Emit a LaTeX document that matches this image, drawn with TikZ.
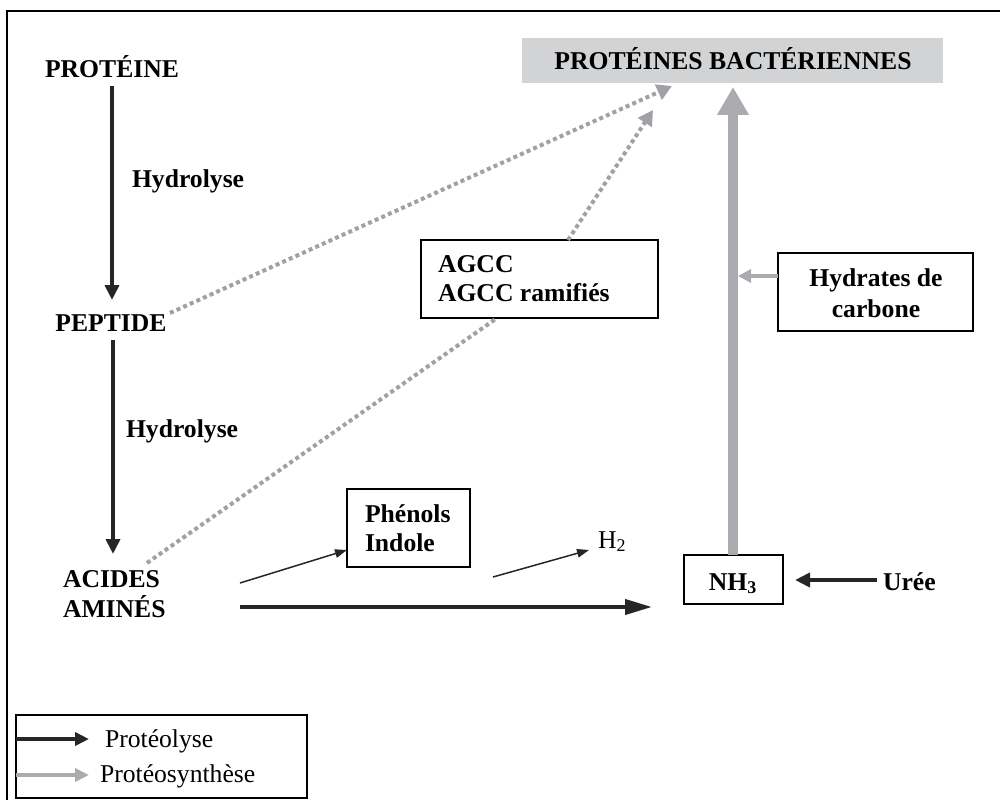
\documentclass[tikz,border=0pt]{standalone}
\usepackage{fontspec}
\setmainfont{Liberation Serif}
\usetikzlibrary{arrows.meta}
\definecolor{arrgray}{RGB}{170,171,175}
\definecolor{dotgray}{RGB}{160,161,166}
\definecolor{boxgray}{RGB}{210,211,213}
\begin{document}
\begin{tikzpicture}[x=0.02cm,y=-0.02cm,
  every node/.style={inner sep=0pt,outer sep=0pt,font=\fontsize{14.6}{17}\selectfont},
  lbl/.style={font=\fontsize{14.6}{17}\selectfont\bfseries},
  reglbl/.style={font=\fontsize{14.6}{17}\selectfont},
  framebox/.style={draw=black,line width=0.035cm},
  blackarr/.style={draw=black!85,line width=0.08cm,-{Triangle[length=0.3cm,width=0.28cm]}},
  thickarr/.style={draw=black!85,line width=0.08cm,-{Triangle[length=0.54cm,width=0.3cm]}},
  thinarr/.style={draw=black!85,line width=0.03cm,-{Triangle[length=0.24cm,width=0.17cm]}},
  bigarr/.style={draw=arrgray,line width=0.2cm,-{Triangle[length=0.56cm,width=0.6cm]}},
  grayarr/.style={draw=arrgray,line width=0.08cm,-{Triangle[length=0.26cm,width=0.26cm]}},
  dotarr/.style={draw=dotgray,line width=0.08cm,dash pattern=on 0.08cm off 0.065cm,-{Triangle[length=0.3cm,width=0.32cm,fill=dotgray]}},
  dotline/.style={draw=dotgray,line width=0.08cm,dash pattern=on 0.08cm off 0.065cm}]
\useasboundingbox (0,0) rectangle (1000,800);
% outer frame
\draw[line width=0.035cm] (7,11) rectangle (1006,806);

% boxes
\path[fill=boxgray] (522,38) rectangle (943,83);
\node[lbl,anchor=base] (pb) at (733,70) {PROTÉINES BACTÉRIENNES};
\coordinate (pbdot1) at (672,86);
\coordinate (pbdot2) at (653,110);
\coordinate (pbbig) at (733,87);

\draw[framebox] (421,240) rectangle (658,318);
\node[lbl,anchor=base west] (agcc1) at (438,273) {AGCC};
\node[lbl,anchor=base west] (agcc2) at (438,302) {AGCC ramifiés};
\coordinate (agccbot) at (497,318);
\coordinate (agcctop) at (568,240);

\draw[framebox] (778,253) rectangle (973,331);
\node[lbl,anchor=base] (hyd1) at (876,287) {Hydrates de};
\node[lbl,anchor=base] (hyd2) at (876,317) {carbone};
\coordinate (hydL) at (778,276);
\coordinate (hydT) at (738,276);

\draw[framebox] (347,489) rectangle (470,567);
\node[lbl,anchor=base west] (phe1) at (365,522) {Phénols};
\node[lbl,anchor=base west] (phe2) at (365,551) {Indole};
\coordinate (pheL) at (347,550);

\draw[framebox] (684,555) rectangle (783,604);
\node[lbl,anchor=base] (nh3) at (733,590) {NH\textsubscript{3}};
\coordinate (nh3top) at (733,555);
\coordinate (nh3R) at (795,580);
\coordinate (nh3L) at (652,607);

% left column
\node[lbl,anchor=base] (prot) at (112,78) {PROTÉINE};
\node[lbl,anchor=base west] (hyd a) at (132,188) {Hydrolyse};
\node[lbl,anchor=base] (pep) at (111,332) {PEPTIDE};
\node[lbl,anchor=base west] (hyd b) at (126,437) {Hydrolyse};
\node[lbl,anchor=base west] (aa1) at (63,587) {ACIDES};
\node[lbl,anchor=base west] (aa2) at (63,617) {AMINÉS};
\coordinate (protB) at (112,86);
\coordinate (pepT) at (112,300);
\coordinate (pepB) at (113,340);
\coordinate (aaT) at (113,554);
\coordinate (pepR) at (170,313);
\coordinate (aaD) at (147,563);
\coordinate (aaR1) at (240,583);
\coordinate (aaR2) at (240,607);

\node[reglbl,anchor=base west] (h2) at (598,548) {H\textsubscript{2}};
\coordinate (h2s) at (493,577);
\coordinate (h2e) at (589,550);

\node[lbl,anchor=base west] (uree) at (883,590) {Urée};
\coordinate (ureeL) at (877,580);

% arrows
\draw[blackarr] (protB) -- (pepT);
\draw[blackarr] (pepB) -- (aaT);
\draw[dotarr] (pepR) -- (pbdot1);
\draw[dotline] (aaD) -- (agccbot);
\draw[dotarr] (agcctop) -- (pbdot2);
\draw[bigarr] (nh3top) -- (pbbig);
\draw[grayarr] (hydL) -- (hydT);
\draw[thinarr] (aaR1) -- (pheL);
\draw[thinarr] (h2s) -- (h2e);
\draw[thickarr] (aaR2) -- (nh3L);
\draw[blackarr] (ureeL) -- (nh3R);

% legend
\draw[framebox] (16,715) rectangle (307,798);
\coordinate (lg1s) at (16,739);
\coordinate (lg1e) at (89,739);
\coordinate (lg2s) at (16,775);
\coordinate (lg2e) at (89,775);
\draw[draw=black!85,line width=0.08cm,-{Triangle[length=0.28cm,width=0.26cm]}] (lg1s) -- (lg1e);
\draw[draw=arrgray,line width=0.08cm,-{Triangle[length=0.28cm,width=0.26cm]}] (lg2s) -- (lg2e);
\node[reglbl,anchor=base west] (lgt1) at (105,747) {Protéolyse};
\node[reglbl,anchor=base west] (lgt2) at (100,782) {Protéosynthèse};
\end{tikzpicture}
\end{document}
